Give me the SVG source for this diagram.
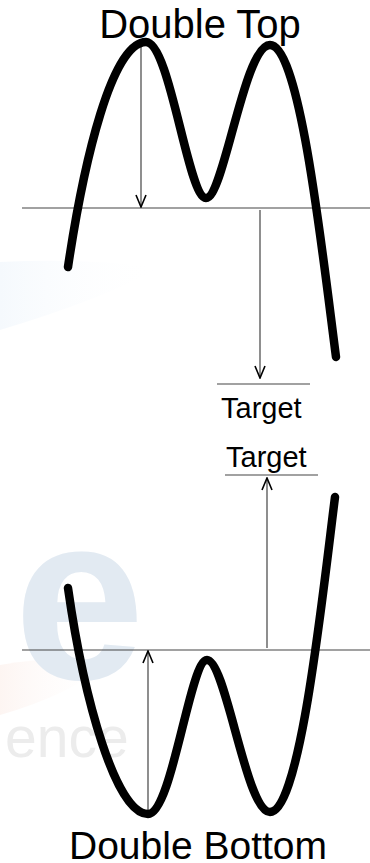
<svg xmlns="http://www.w3.org/2000/svg" width="370" height="863" viewBox="0 0 370 863">
<style>
.curve{fill:none;stroke:#000;stroke-width:8.5;stroke-linecap:round;stroke-linejoin:round}
.thin{fill:none;stroke:#444;stroke-width:1.2}
.lbl{font-family:"Liberation Sans",Arial,sans-serif;fill:#000}
.wm{font-family:"Liberation Sans",Arial,sans-serif}
</style>
<defs>
<marker id="ah" viewBox="0 0 14 12" refX="13" refY="6" markerWidth="14" markerHeight="12" markerUnits="userSpaceOnUse" orient="auto">
<path d="M1,1 L13,6 L1,11" fill="none" stroke="#000" stroke-width="1.6"/>
</marker>
<linearGradient id="blu" x1="0" y1="0" x2="1" y2="0">
<stop offset="0" stop-color="#f5f9fd"/>
<stop offset="1" stop-color="#ffffff" stop-opacity="0"/>
</linearGradient>
<linearGradient id="org" x1="0" y1="0" x2="1" y2="0">
<stop offset="0" stop-color="#fdf5f2"/>
<stop offset="1" stop-color="#ffffff" stop-opacity="0"/>
</linearGradient>
</defs>
<rect width="370" height="863" fill="#fff"/>
<g id="watermark">
<path d="M0,262 Q90,258 160,268 Q100,300 0,330 Z" fill="url(#blu)"/>
<path d="M0,665 Q60,655 110,662 Q70,695 0,715 Z" fill="url(#org)"/>
<text class="wm" x="14" y="679" font-size="235" font-weight="bold" fill="#e2eaf2">e</text>
<text class="wm" x="5" y="757" font-size="57" fill="#ececec">ence</text>
</g>
<g id="connectors">
<line class="thin" x1="22" y1="208" x2="370" y2="208"/>
<line class="thin" x1="22" y1="650" x2="370" y2="650"/>
<line class="thin" x1="217" y1="384" x2="310" y2="384"/>
<line class="thin" x1="225" y1="475" x2="318" y2="475"/>
<line class="thin" x1="141" y1="42" x2="141" y2="207" marker-end="url(#ah)"/>
<line class="thin" x1="260" y1="210" x2="260" y2="378" marker-end="url(#ah)"/>
<line class="thin" x1="267" y1="648" x2="267" y2="478" marker-end="url(#ah)"/>
<line class="thin" x1="148" y1="814" x2="148" y2="651" marker-end="url(#ah)"/>
</g>
<g id="double-top">
<path class="curve" d="M68,267 C84,160 112,42 146,42 C170,42 188,198 206,198 C224,198 244,45 270,45 C300,45 322,250 336,357"/>
<text class="lbl" x="200" y="38" font-size="40" text-anchor="middle">Double Top</text>
</g>
<g id="target-top">
<text class="lbl" x="221" y="418" font-size="29">Target</text>
</g>
<g id="target-bottom">
<text class="lbl" x="226" y="467" font-size="29">Target</text>
</g>
<g id="double-bottom">
<path class="curve" d="M68,588 C84,700 116,814 148,814 C172,814 190,660 207,660 C226,660 246,812 270,812 C300,812 322,600 335,497"/>
<text class="lbl" x="198" y="859" font-size="39" text-anchor="middle">Double Bottom</text>
</g>
</svg>
